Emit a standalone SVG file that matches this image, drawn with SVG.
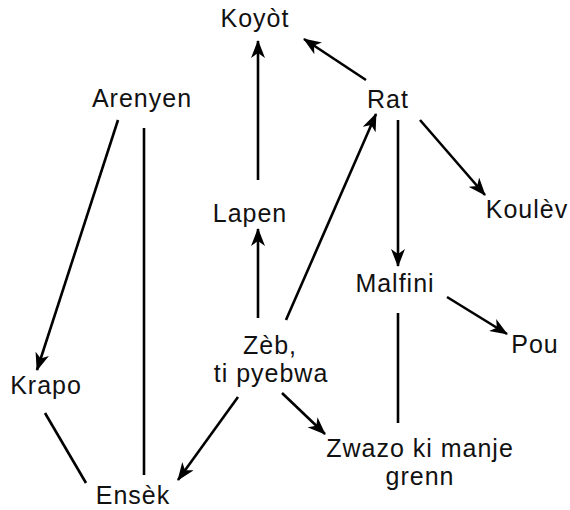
<svg xmlns="http://www.w3.org/2000/svg" width="570" height="510" viewBox="0 0 570 510">
<defs>
<style>
text{font-family:"Liberation Sans",Arial,sans-serif;font-size:25px;letter-spacing:1px;fill:#111;text-anchor:middle}
.e{stroke:#000;stroke-width:2.6;fill:none}
.a{marker-end:url(#ah)}
</style>
<marker id="ah" viewBox="0 0 18 14" refX="17" refY="7" markerWidth="18" markerHeight="14" markerUnits="userSpaceOnUse" orient="auto">
<path d="M0,0 L18,7 L0,14 L5,7 Z" fill="#000"/>
</marker>
</defs>
<rect width="570" height="510" fill="#fff"/>
<g id="edges">
<line class="e a" x1="366" y1="80" x2="304" y2="39"/>
<line class="e a" x1="258" y1="180" x2="258" y2="41"/>
<line class="e a" x1="258" y1="318" x2="258" y2="229"/>
<line class="e a" x1="286" y1="320" x2="376" y2="114"/>
<line class="e a" x1="398" y1="120" x2="398" y2="266"/>
<line class="e a" x1="420" y1="120" x2="485" y2="195"/>
<line class="e a" x1="447" y1="297" x2="507" y2="334"/>
<line class="e" x1="398" y1="313" x2="398" y2="423"/>
<line class="e a" x1="282" y1="393" x2="325" y2="434"/>
<line class="e a" x1="238" y1="397" x2="178" y2="480"/>
<line class="e a" x1="118" y1="120" x2="37" y2="370"/>
<line class="e" x1="144" y1="128" x2="144" y2="475"/>
<line class="e" x1="45" y1="413" x2="86" y2="483"/>
</g>
<g id="koyot"><text x="255" y="27">Koyòt</text></g>
<g id="arenyen"><text x="142" y="107">Arenyen</text></g>
<g id="rat"><text x="388" y="108">Rat</text></g>
<g id="lapen"><text x="250" y="222">Lapen</text></g>
<g id="koulev"><text x="527" y="218">Koulèv</text></g>
<g id="malfini"><text x="395" y="292">Malfini</text></g>
<g id="pou"><text x="535" y="353">Pou</text></g>
<g id="zeb"><text><tspan x="270" y="353.5">Zèb,</tspan><tspan x="271" y="382">ti pyebwa</tspan></text></g>
<g id="krapo"><text x="46" y="394">Krapo</text></g>
<g id="zwazo"><text><tspan x="420" y="456.5">Zwazo ki manje</tspan><tspan x="420" y="485">grenn</tspan></text></g>
<g id="ensek"><text x="133" y="504">Ensèk</text></g>
</svg>
